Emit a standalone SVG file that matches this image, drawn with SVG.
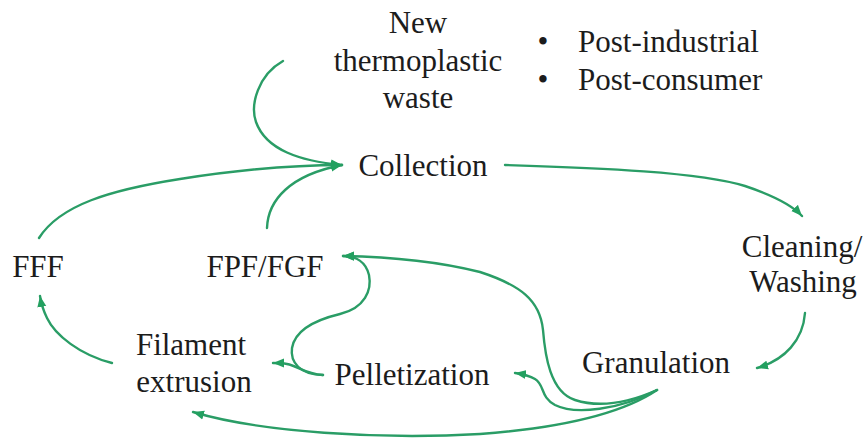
<svg xmlns="http://www.w3.org/2000/svg" width="867" height="443" viewBox="0 0 867 443">
  <style>
    text { font-family: 'Liberation Serif', 'Tinos', 'Times New Roman', Times, 'DejaVu Serif', serif; font-size: 31px; fill: #1c1c1c; }
    .mid { text-anchor: middle; }
    .flow { fill: none; stroke: #2a9d66; stroke-width: 2.4; stroke-linecap: round; }
    .head { marker-end: url(#arrow); }
  </style>
  <defs>
    <marker id="arrow" markerUnits="userSpaceOnUse" markerWidth="12" markerHeight="10" refX="11" refY="5" orient="auto">
      <path d="M0,0.5 L11,5 L0,9.5 z" fill="#23a060"/>
    </marker>
  </defs>

  <rect width="867" height="443" fill="#ffffff"/>

  <!-- connectors -->
  <g id="connectors">
    <!-- new waste into collection -->
    <path class="flow head" d="M283,61 C258,75 250,105 256,122 C266,150 300,161 342,165"/>
    <!-- FFF back to collection -->
    <path class="flow head" d="M39,238 C60,205 110,190 180,179 C250,168 300,165 342,165"/>
    <!-- FPF/FGF back to collection -->
    <path class="flow head" d="M267,228 C268,200 290,175 342,165"/>
    <!-- collection to cleaning -->
    <path class="flow head" d="M505,165 C600,168 700,172 745,186 C775,196 792,205 802,216"/>
    <!-- cleaning to granulation -->
    <path class="flow head" d="M805,313 C803,340 785,360 757,368"/>
    <!-- granulation to FPF/FGF -->
    <path class="flow head" d="M657,390 C630,402 600,408 575,400 C550,392 545,355 543,330 C540,300 520,285 480,272 C440,262 400,257 343,256"/>
    <!-- granulation to pelletization -->
    <path class="flow head" d="M657,390 C620,410 575,415 555,405 C540,397 545,385 535,379 C530,376 522,374 515,373"/>
    <!-- granulation to filament extrusion -->
    <path class="flow head" d="M657,390 C620,415 560,428 480,434 C380,440 260,432 193,412"/>
    <!-- pelletization to FPF/FGF -->
    <path class="flow head" d="M323,375 C300,375 290,362 292,348 C295,330 315,320 340,314 C365,308 372,290 369,275 C366,262 356,256 343,256"/>
    <!-- pelletization to filament extrusion -->
    <path class="flow head" d="M323,375 C305,374 298,366 287,364 C282,363 278,363 273,363"/>
    <!-- filament extrusion to FFF -->
    <path class="flow head" d="M112,363 C80,355 55,335 47,318 C43,310 41,302 40,296"/>
  </g>

  <!-- nodes -->
  <g id="node-waste">
    <text class="mid" x="418" y="33">New</text>
    <text class="mid" x="418" y="71">thermoplastic</text>
    <text class="mid" x="418" y="108">waste</text>
  </g>
  <g id="node-sources">
    <text class="mid" x="543" y="52">•</text>
    <text class="mid" x="543" y="90">•</text>
    <text x="578" y="52">Post-industrial</text>
    <text x="578" y="90">Post-consumer</text>
  </g>
  <g id="node-collection">
    <text class="mid" x="423" y="176">Collection</text>
  </g>
  <g id="node-cleaning">
    <text class="mid" x="802" y="257">Cleaning/</text>
    <text class="mid" x="803" y="292">Washing</text>
  </g>
  <g id="node-granulation">
    <text class="mid" x="656" y="373">Granulation</text>
  </g>
  <g id="node-pelletization">
    <text class="mid" x="412" y="385">Pelletization</text>
  </g>
  <g id="node-filament">
    <text class="mid" x="191" y="355">Filament</text>
    <text class="mid" x="194" y="392">extrusion</text>
  </g>
  <g id="node-fpf">
    <text class="mid" x="265" y="277">FPF/FGF</text>
  </g>
  <g id="node-fff">
    <text class="mid" x="38" y="277">FFF</text>
  </g>
</svg>
